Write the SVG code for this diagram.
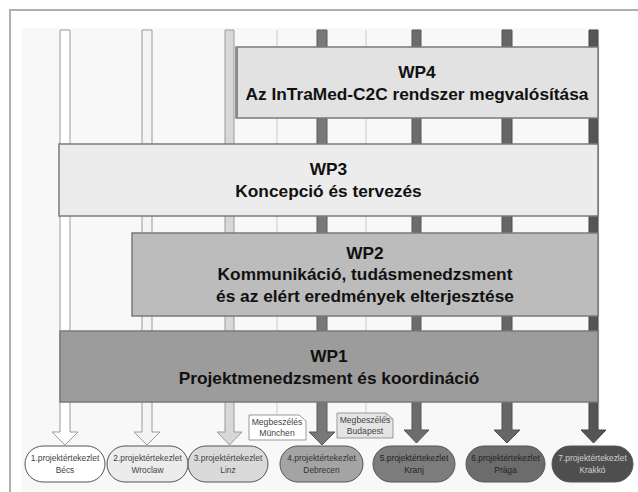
<svg xmlns="http://www.w3.org/2000/svg" width="638" height="492" viewBox="0 0 638 492">
<style>
.wp{stroke:#7a7a7a;stroke-width:1.5}
.wpt{font-family:"Liberation Sans",Arial,sans-serif;font-weight:bold;font-size:17.3px;fill:#111;text-anchor:middle}
.nd{stroke:#555;stroke-width:1}
.ndt{font-family:"Liberation Sans",Arial,sans-serif;font-size:8.4px;text-anchor:middle}
.co{stroke:#999;stroke-width:1}
.cot{font-family:"Liberation Sans",Arial,sans-serif;font-size:8.6px;fill:#444;text-anchor:middle}
.guide{stroke:#e2e2e2;stroke-width:2;fill:none}
.ar{stroke-width:1;stroke-linejoin:miter}
</style>
<rect x="0" y="0" width="638" height="492" fill="#fff"/>
<rect x="10" y="10" width="640" height="500" fill="#fff" stroke="#b0b0b0" stroke-width="2"/>
<rect x="22" y="28" width="578" height="464" fill="#f8f8f8"/>
<g id="connectors">
<line class="guide" x1="277" y1="30" x2="277" y2="415"/>
<line class="guide" x1="366" y1="30" x2="366" y2="413"/>
<polygon class="ar" fill="#ffffff" stroke="#9a9a9a" points="60,30 70,30 70,432 78,432 65,445 52,432 60,432"/>
<polygon class="ar" fill="#f4f4f4" stroke="#9a9a9a" points="142,30 152,30 152,432 160,432 147,445 134,432 142,432"/>
<polygon class="ar" fill="#d8d8d8" stroke="#9a9a9a" points="225,30 234,30 234,432 242,432 229.5,445 217,432 225,432"/>
<polygon class="ar" fill="#787878" stroke="#5a5a5a" points="317,30 327,30 327,432 335,432 322,445 309,432 317,432"/>
<polygon class="ar" fill="#6c6c6c" stroke="#555" points="412,30 421,30 421,430 429,430 416.5,443 404,430 412,430"/>
<polygon class="ar" fill="#666666" stroke="#505050" points="502,30 512,30 512,430 520,430 507,443 494,430 502,430"/>
<polygon class="ar" fill="#555555" stroke="#444" points="589,30 598,30 598,430 606,430 593.5,443 581,430 589,430"/>
</g>
<g id="wp4">
<rect class="wp" x="236" y="47" width="362" height="71" fill="#e2e2e2"/>
<line x1="237" y1="47" x2="237" y2="118" stroke="#8a8a8a" stroke-width="2"/>
<text class="wpt" x="417" y="78">WP4</text>
<text class="wpt" x="417" y="100">Az InTraMed-C2C rendszer megvalósítása</text>
</g>
<g id="wp3">
<rect class="wp" x="59" y="144" width="539" height="72" fill="#ececec"/>
<text class="wpt" x="328.5" y="175">WP3</text>
<text class="wpt" x="328.5" y="197">Koncepció és tervezés</text>
</g>
<g id="wp2">
<rect class="wp" x="132" y="233" width="466" height="83" fill="#bcbcbc"/>
<text class="wpt" x="365" y="259">WP2</text>
<text class="wpt" x="365" y="280">Kommunikáció, tudásmenedzsment</text>
<text class="wpt" x="365" y="302">és az elért eredmények elterjesztése</text>
</g>
<g id="wp1">
<rect class="wp" x="60" y="331" width="538" height="71" fill="#9c9c9c"/>
<text class="wpt" x="329" y="362">WP1</text>
<text class="wpt" x="329" y="384">Projektmenedzsment és koordináció</text>
</g>
<g id="munchen">
<path class="co" d="M249,415 H299 L306,421 V440 H249 Z" fill="#ffffff"/>
<text class="cot" x="277" y="425">Megbeszélés</text>
<text class="cot" x="277" y="436">München</text>
</g>
<g id="budapest">
<path class="co" d="M337,413 H386 L393,419 V438 H337 Z" fill="#e4e4e4"/>
<path d="M386,413 V419 H393" fill="none" stroke="#aaa" stroke-width="0.8"/>
<text class="cot" x="365" y="423">Megbeszélés</text>
<text class="cot" x="365" y="434">Budapest</text>
</g>
<g id="becs">
<rect class="nd" x="25" y="446" width="80" height="36" rx="18" fill="#ffffff"/>
<text class="ndt" x="65" y="461" fill="#444">1.projektértekezlet</text>
<text class="ndt" x="65" y="473" fill="#444">Bécs</text>
</g>
<g id="wroclaw">
<rect class="nd" x="107" y="446" width="81" height="36" rx="18" fill="#ececec"/>
<text class="ndt" x="147.5" y="461" fill="#444">2.projektértekezlet</text>
<text class="ndt" x="147.5" y="473" fill="#444">Wroclaw</text>
</g>
<g id="linz">
<rect class="nd" x="188" y="446" width="80" height="36" rx="18" fill="#dadada"/>
<text class="ndt" x="228" y="461" fill="#444">3.projektértekezlet</text>
<text class="ndt" x="228" y="473" fill="#444">Linz</text>
</g>
<g id="debrecen">
<rect class="nd" x="280" y="446" width="83" height="36" rx="18" fill="#a4a4a4"/>
<text class="ndt" x="321.5" y="461" fill="#333">4.projektértekezlet</text>
<text class="ndt" x="321.5" y="473" fill="#333">Debrecen</text>
</g>
<g id="kranj">
<rect class="nd" x="373" y="446" width="82" height="36" rx="18" fill="#7c7c7c"/>
<text class="ndt" x="414" y="461" fill="#222">5.projektértekezlet</text>
<text class="ndt" x="414" y="473" fill="#222">Kranj</text>
</g>
<g id="praga">
<rect class="nd" x="466" y="446" width="79" height="36" rx="18" fill="#6c6c6c"/>
<text class="ndt" x="505.5" y="461" fill="#222">6.projektértekezlet</text>
<text class="ndt" x="505.5" y="473" fill="#222">Prága</text>
</g>
<g id="krakko">
<rect class="nd" x="552" y="446" width="81" height="36" rx="18" fill="#4e4e4e"/>
<text class="ndt" x="592.5" y="461" fill="#cfcfcf">7.projektértekezlet</text>
<text class="ndt" x="592.5" y="473" fill="#cfcfcf">Krakkó</text>
</g>
</svg>
